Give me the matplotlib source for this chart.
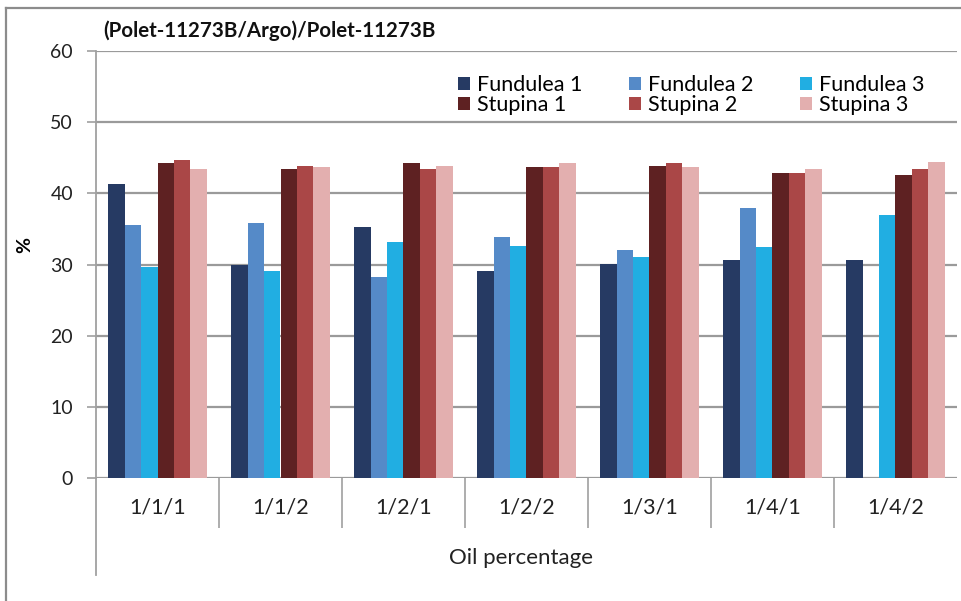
import matplotlib
matplotlib.use("Agg")
import matplotlib.pyplot as plt
import numpy as np
from matplotlib.lines import Line2D

plt.rcParams['font.family'] = ['Lato', 'DejaVu Sans']

categories = ["1/1/1", "1/1/2", "1/2/1", "1/2/2", "1/3/1", "1/4/1", "1/4/2"]
series_names = ["Fundulea 1", "Fundulea 2", "Fundulea 3", "Stupina 1", "Stupina 2", "Stupina 3"]
fundulea1 = [41.3, 30.0, 35.3, 29.1, 30.1, 30.7, 30.7]
fundulea2 = [35.5, 35.9, 28.3, 33.9, 32.1, 38.0, np.nan]
fundulea3 = [29.6, 29.1, 33.2, 32.6, 31.0, 32.4, 36.9]
stupina1 = [44.2, 43.4, 44.2, 43.7, 43.9, 42.8, 42.6]
stupina2 = [44.7, 43.9, 43.4, 43.7, 44.2, 42.8, 43.4]
stupina3 = [43.4, 43.7, 43.9, 44.2, 43.7, 43.4, 44.4]
values = [fundulea1, fundulea2, fundulea3, stupina1, stupina2, stupina3]
colors = ["#263A63", "#558AC8", "#21AEE2", "#5E2122", "#AA4747", "#E3AFAF"]
title = "(Polet-11273B/Argo)/Polet-11273B"
yticks = [0, 10, 20, 30, 40, 50, 60]

W, H = 962, 601
fig = plt.figure(figsize=(W / 100, H / 100), dpi=100)
L, R, B, T = 96, 957, 478, 51
ax = fig.add_axes([L / W, 1 - B / H, (R - L) / W, (B - T) / H])

x = np.arange(len(categories))
bw = 0.8 / 6
handles = []
for i, (name, vals, c) in enumerate(zip(series_names, values, colors)):
    h = ax.bar(x - 0.4 + bw * (i + 0.5), vals, width=bw, color=c, label=name, zorder=3)
    handles.append(h)

ax.set_xlim(-0.5, len(categories) - 0.5)
ax.set_ylim(0, 60)
ax.set_yticks(yticks)
ax.yaxis.grid(True, color="#9A9A9A", linewidth=1.6, zorder=0)
ax.set_axisbelow(True)
for s in ["top", "right", "bottom"]:
    ax.spines[s].set_visible(False)
ax.spines["left"].set_color("#A0A0A0")
ax.spines["left"].set_linewidth(1.3)
ax.tick_params(axis="y", length=6.5, width=1.2, color="#A0A0A0", labelsize=14, pad=10, labelcolor="#222222")

# category separators as long major ticks, labels on minor ticks
ax.set_xticks(np.arange(0.5, len(categories) - 0.5, 1.0))
ax.set_xticklabels([])
ax.tick_params(axis="x", which="major", length=36, width=1.2, color="#A0A0A0", direction="out")
ax.set_xticks(x, minor=True)
ax.set_xticklabels(categories, minor=True)
ax.tick_params(axis="x", which="minor", length=0, labelsize=15.5, pad=14, labelcolor="#222222")

# extended left axis line below the plot
fig.add_artist(Line2D([L / W, L / W], [1 - B / H, 1 - 575 / H], color="#A0A0A0", lw=1.3))
# outer chart border (top and left)
fig.add_artist(Line2D([6 / W, 6 / W], [0, 1 - 8 / H], color="#8C8C8C", lw=1.6))
fig.add_artist(Line2D([6 / W, 1], [1 - 8 / H, 1 - 8 / H], color="#8C8C8C", lw=1.6))

fig.text(103 / W, 1 - 31 / H, title, fontsize=14.8, fontweight="bold", va="center", ha="left", color="#111111")
fig.text(25 / W, 1 - 245 / H, "%", fontsize=14, fontweight="bold", rotation=90, va="center", ha="center")
fig.text(521 / W, 1 - 558 / H, "Oil percentage", fontsize=16, va="center", ha="center", color="#222222")

order = [0, 3, 1, 4, 2, 5]
leg = fig.legend([handles[i] for i in order], [series_names[i] for i in order],
                 loc="upper left", bbox_to_anchor=(458 / W, 1 - 75 / H), ncol=3, frameon=False,
                 fontsize=15.5, handlelength=0.55, handleheight=0.55, handletextpad=0.35,
                 columnspacing=2.15, labelspacing=0.0, borderaxespad=0, borderpad=0)

fig.savefig("out.png", dpi=100)
